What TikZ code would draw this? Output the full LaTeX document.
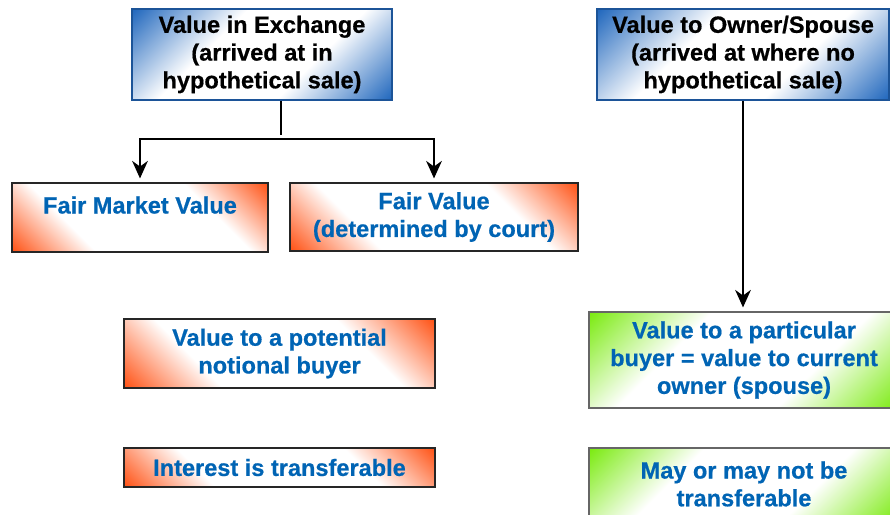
\documentclass[tikz,border=0pt]{standalone}
\usepackage{fontspec}
\setmainfont{Liberation Sans}[BoldFeatures={FakeBold=0.6}]
\usetikzlibrary{arrows.meta,positioning}

\definecolor{hdblue}{RGB}{35,105,190}
\definecolor{fairred}{RGB}{255,85,25}
\definecolor{owngreen}{RGB}{125,235,20}
\definecolor{txtblue}{RGB}{0,100,180}

\pgfdeclarehorizontalshading{hdshade}{100bp}{color(0bp)=(hdblue); color(15bp)=(hdblue); color(38bp)=(white); color(62bp)=(white); color(85bp)=(hdblue); color(100bp)=(hdblue)}
\pgfdeclarehorizontalshading{fairshade}{100bp}{color(0bp)=(fairred); color(15bp)=(fairred); color(33bp)=(white); color(67bp)=(white); color(85bp)=(fairred); color(100bp)=(fairred)}
\pgfdeclarehorizontalshading{ownshade}{100bp}{color(0bp)=(owngreen); color(15bp)=(owngreen); color(36bp)=(white); color(64bp)=(white); color(85bp)=(owngreen); color(100bp)=(owngreen)}

\begin{document}
\begin{tikzpicture}[x=1cm,y=-1cm,line width=0.4pt,shorten >=1pt,>={Stealth[length=5pt,width=4.5pt]},
  box/.style={draw,rectangle,line width=0.6pt,align=center,inner sep=2pt,font=\fontsize{6.7}{7.9}\selectfont\bfseries},
  head/.style={box,draw=hdblue!80!black,shading=hdshade,shading angle=-45},
  fairbox/.style={box,draw=black!85,shading=fairshade,shading angle=45,text=txtblue},
  ownbox/.style={box,draw=black!60,shading=ownshade,shading angle=-45,text=txtblue}]
\useasboundingbox (0,0) rectangle (8.9,5.15);

\node[head,minimum width=2.6cm,minimum height=0.91cm] (exch) at (2.62,0.545) {Value in Exchange\\(arrived at in\\hypothetical sale)};
\node[head,minimum width=2.92cm,minimum height=0.91cm] (owner) at (7.43,0.545) {Value to Owner/Spouse\\(arrived at where no\\hypothetical sale)};

\node[fairbox,minimum width=2.56cm,minimum height=0.69cm,text depth=0.25cm] (fmv) at (1.40,2.175) {Fair Market Value};
\node[fairbox,minimum width=2.88cm,minimum height=0.68cm] (fv) at (4.34,2.17) {Fair Value\\(determined by court)};
\node[fairbox,minimum width=3.11cm,minimum height=0.69cm] (notional) at (2.795,3.535) {Value to a potential\\notional buyer};
\node[fairbox,minimum width=3.11cm,minimum height=0.39cm] (transfer) at (2.795,4.675) {Interest is transferable};

\node[ownbox,minimum width=3.1cm,minimum height=0.96cm] (particular) at (7.44,3.60) {Value to a particular\\buyer = value to current\\owner (spouse)};
\node[ownbox,minimum width=3.1cm,minimum height=0.72cm] (maybe) at (7.44,4.84) {May or may not be\\transferable};

\coordinate (split) at (2.81,1.39);
\draw (exch.south -| split) -- (split);
\draw[->] (split) -| (fmv.north);
\draw[->] (split) -| (fv.north);
\draw[->] (owner.south) -- (owner.south |- particular.north);
\end{tikzpicture}
\end{document}
